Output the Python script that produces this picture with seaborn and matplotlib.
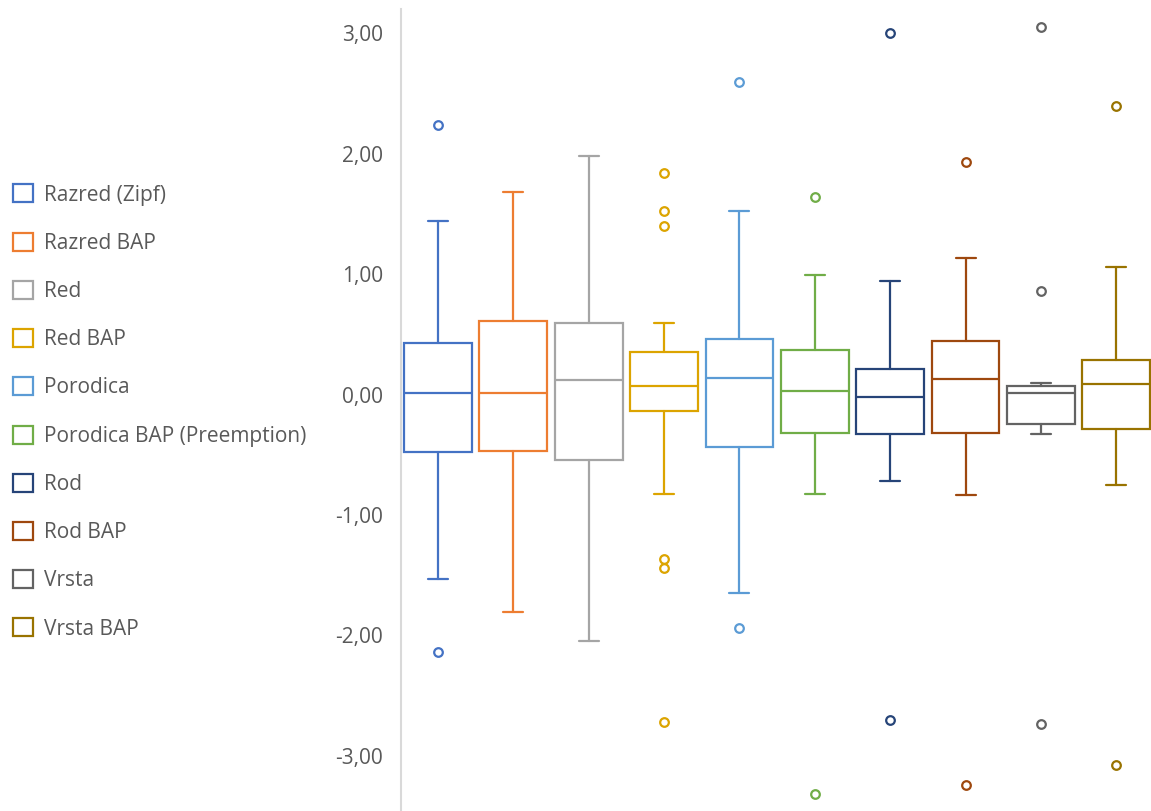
import matplotlib
matplotlib.use("Agg")
import matplotlib.pyplot as plt
import seaborn as sns
from matplotlib.patches import Patch
from matplotlib.ticker import FuncFormatter

# ---- data ----
categories = ["Razred (Zipf)", "Razred BAP", "Red", "Red BAP", "Porodica",
              "Porodica BAP (Preemption)", "Rod", "Rod BAP", "Vrsta", "Vrsta BAP"]
whisker_low = [-1.53, -1.81, -2.05, -0.83, -1.645, -0.83, -0.72, -0.835, -0.33, -0.75]
q1 = [-0.48, -0.47, -0.54, -0.135, -0.44, -0.32, -0.325, -0.323, -0.245, -0.284]
median = [0.01, 0.01, 0.12, 0.07, 0.135, 0.027, -0.018, 0.129, 0.01, 0.09]
q3 = [0.43, 0.61, 0.59, 0.35, 0.46, 0.37, 0.21, 0.447, 0.073, 0.287]
whisker_high = [1.44, 1.68, 1.98, 0.59, 1.525, 0.99, 0.94, 1.13, 0.096, 1.057]
outliers = [
    [2.24, -2.14],
    [],
    [],
    [1.84, 1.525, 1.40, -1.37, -1.445, -2.72],
    [2.60, -1.94],
    [1.64, -3.32],
    [3.00, -2.70],
    [1.93, -3.246],
    [3.05, 0.863, -2.74],
    [2.40, -3.08],
]
colors = ["#4472C4", "#ED7D31", "#A5A5A5", "#DCA400", "#5B9BD5",
          "#70AD47", "#264478", "#9E480E", "#636363", "#997300"]
y_ticks = [-3, -2, -1, 0, 1, 2, 3]

# ---- styling ----
sns.set_theme(style="white")
plt.rcParams["font.family"] = ["Open Sans", "DejaVu Sans"]

fig = plt.figure(figsize=(11.51, 8.11), dpi=100)
ax = fig.add_axes([401 / 1151, 0.0, 1 - 401 / 1151, 1 - 9.3 / 811])

stats = []
for i, name in enumerate(categories):
    stats.append(dict(label=name, whislo=whisker_low[i], q1=q1[i], med=median[i],
                      q3=q3[i], whishi=whisker_high[i], fliers=outliers[i]))

positions = list(range(len(categories)))
for i, st in enumerate(stats):
    c = colors[i]
    ax.bxp([st], positions=[positions[i]], widths=0.9, capwidths=0.265,
           patch_artist=True, manage_ticks=False,
           boxprops=dict(facecolor="white", edgecolor=c, linewidth=1.6),
           medianprops=dict(color=c, linewidth=1.6),
           whiskerprops=dict(color=c, linewidth=1.6),
           capprops=dict(color=c, linewidth=1.6),
           flierprops=dict(marker="o", markerfacecolor="white", markeredgecolor=c,
                           markersize=6.2, markeredgewidth=1.6))

ax.set_xlim(-0.49, 9.46)
ax.set_ylim(-3.46, 3.2)
ax.set_xticks([])
ax.set_yticks(y_ticks)
ax.yaxis.set_major_formatter(FuncFormatter(lambda v, p: f"{v:.2f}".replace(".", ",").replace("-0,00", "0,00")))
ax.tick_params(axis="y", length=0, pad=12.7, labelsize=15, labelcolor="#595959")
for s in ["top", "right", "bottom"]:
    ax.spines[s].set_visible(False)
ax.spines["left"].set_color("#D9D9D9")
ax.spines["left"].set_linewidth(1.5)
ax.grid(False)
ax.set_facecolor("white")

handles = [Patch(facecolor="white", edgecolor=c, linewidth=1.6) for c in colors]
fig.legend(handles, categories, loc="center left", bbox_to_anchor=(13 / 1151, 1 - 412 / 811),
           bbox_transform=fig.transFigure, frameon=False, fontsize=15,
           handlelength=0.95, handleheight=0.95, handletextpad=0.55,
           labelspacing=1.3, borderpad=0, borderaxespad=0, labelcolor="#595959")

fig.savefig("out.png", dpi=100, facecolor="white")
